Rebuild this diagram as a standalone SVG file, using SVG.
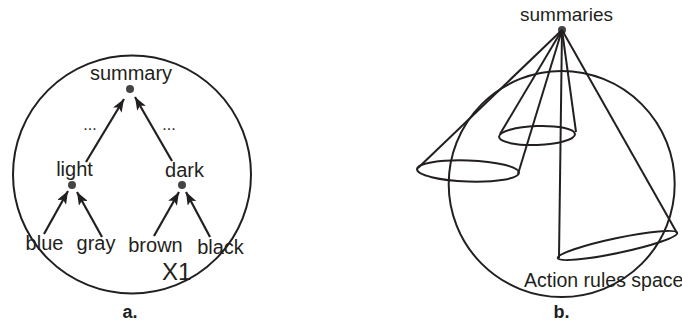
<svg xmlns="http://www.w3.org/2000/svg" width="682" height="322" viewBox="0 0 682 322">
<style>
.t{font-family:"Liberation Sans",Arial,sans-serif;fill:#231f20}
.ln{stroke:#231f20;stroke-width:2;fill:none}
.dot{fill:#444}
.ar{stroke:#231f20;stroke-width:2.2;fill:none;marker-end:url(#ah)}
</style>
<defs>
<marker id="ah" markerUnits="userSpaceOnUse" markerWidth="14" markerHeight="10" refX="13" refY="5" orient="auto">
<path d="M0,0 L13,5 L0,10 L3,5 z" fill="#231f20"/>
</marker>
</defs>
<rect width="682" height="322" fill="#fff"/>
<g id="panel-a">
<circle id="x1-space" class="ln" cx="132" cy="174.5" r="119"/>
<g id="summary"><text class="t" x="131" y="80" font-size="20" text-anchor="middle">summary</text><circle class="dot" cx="130" cy="89" r="4"/></g>
<g id="light"><text class="t" x="74.5" y="176" font-size="20" text-anchor="middle">light</text><circle class="dot" cx="72" cy="185" r="4"/></g>
<g id="dark"><text class="t" x="184.5" y="177" font-size="20" text-anchor="middle">dark</text><circle class="dot" cx="182" cy="185" r="4"/></g>
<g id="blue"><text class="t" x="44.5" y="250" font-size="20" text-anchor="middle">blue</text></g>
<g id="gray"><text class="t" x="96" y="250" font-size="20" text-anchor="middle">gray</text></g>
<g id="brown"><text class="t" x="155.5" y="252" font-size="20" text-anchor="middle">brown</text></g>
<g id="black"><text class="t" x="220.5" y="254" font-size="20" text-anchor="middle">black</text></g>
<text class="t" x="90" y="130" font-size="16" text-anchor="middle">...</text>
<text class="t" x="169" y="130" font-size="16" text-anchor="middle">...</text>
<text class="t" x="162" y="280" font-size="24">X1</text>
<text class="t" x="130" y="318" font-size="18" font-weight="bold" text-anchor="middle">a.</text>
</g>
<g id="connectors">
<line class="ar" x1="86" y1="162" x2="124" y2="99"/>
<line class="ar" x1="172" y1="161" x2="135" y2="97"/>
<line class="ar" x1="44" y1="234" x2="68" y2="191"/>
<line class="ar" x1="102" y1="237" x2="77" y2="192"/>
<line class="ar" x1="154" y1="236" x2="179" y2="192"/>
<line class="ar" x1="210" y1="237" x2="186" y2="192"/>
</g>
<g id="panel-b">
<circle id="action-rules-space" class="ln" cx="561.7" cy="184" r="113"/>
<g id="summaries"><text class="t" x="566.5" y="21" font-size="19" text-anchor="middle">summaries</text><circle class="dot" cx="562" cy="30" r="4"/></g>
<g id="cone-left" class="ln">
<ellipse cx="468" cy="171" rx="51" ry="10.5" transform="rotate(2 468 171)"/>
<line x1="562" y1="30" x2="418" y2="168"/>
<line x1="562" y1="30" x2="518" y2="174"/>
</g>
<g id="cone-middle" class="ln">
<ellipse cx="537" cy="135.5" rx="38" ry="9.5" transform="rotate(-2 537 135.5)"/>
<line x1="562" y1="30" x2="500" y2="134"/>
<line x1="562" y1="30" x2="576" y2="132"/>
</g>
<g id="cone-right" class="ln">
<ellipse cx="617.5" cy="245.5" rx="61" ry="7.5" transform="rotate(-11.9 617.5 245.5)"/>
<line x1="562" y1="30" x2="559" y2="258"/>
<line x1="562" y1="30" x2="677" y2="233"/>
</g>
<text class="t" x="524" y="287" font-size="19.5">Action rules space</text>
<text class="t" x="561.5" y="318" font-size="18" font-weight="bold" text-anchor="middle">b.</text>
</g>
</svg>
